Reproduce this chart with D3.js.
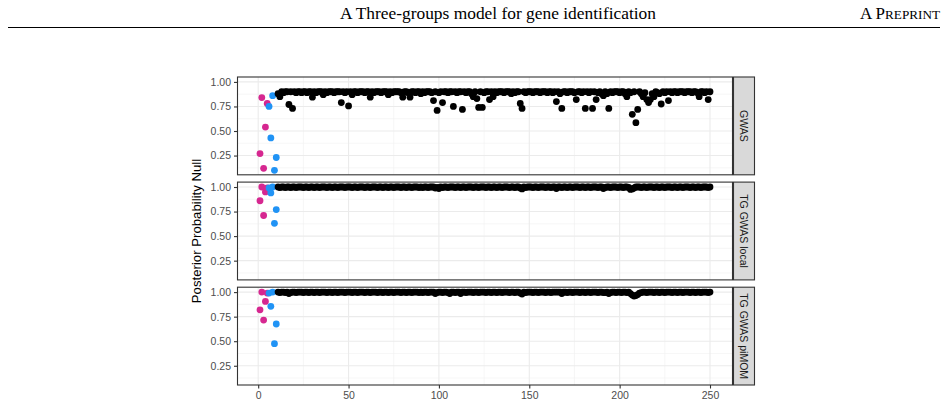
<!DOCTYPE html>
<html>
<head>
<meta charset="utf-8">
<script src="https://cdn.jsdelivr.net/npm/d3@7.8.5/dist/d3.min.js"></script>
<style>
  body { margin: 0; background: #fff; }
  svg { display: block; }
</style>
</head>
<body>
<div id="chart"></div>
<script>
// panel labels (facets, top to bottom)
const panels = ["GWAS", "TG GWAS local", "TG GWAS piMOM"];

// genes 1..5 (magenta group) and 6..10 (blue group), per panel
const magentaIdx = [1, 2, 3, 4, 5];
const blueIdx = [6, 7, 8, 9, 10];
const magentaVals = [
  [0.27, 0.84, 0.12, 0.54, 0.78],
  [0.86, 1.00, 0.71, 0.95, 0.99],
  [0.82, 1.00, 0.715, 0.905, 0.99]
];
const blueVals = [
  [0.75, 0.43, 0.86, 0.10, 0.23],
  [0.99, 0.94, 1.00, 0.63, 0.77],
  [0.99, 0.855, 1.00, 0.475, 0.675]
];

// remaining genes 11..250 (black)
const gwasVals = [
  0.88, 0.85, 0.90, 0.89, 0.90, 0.90, 0.77, 0.90, 0.73, 0.90, 0.89, 0.90, 0.90, 0.89, 0.90, 0.90, 0.89, 0.90, 0.90, 0.845,
  0.90, 0.89, 0.90, 0.90, 0.90, 0.87, 0.90, 0.89, 0.90, 0.90, 0.90, 0.89, 0.90, 0.90, 0.90, 0.79, 0.90, 0.89, 0.90, 0.755,
  0.90, 0.87, 0.90, 0.90, 0.89, 0.90, 0.90, 0.90, 0.89, 0.90, 0.90, 0.845, 0.90, 0.89, 0.90, 0.90, 0.90, 0.89, 0.90, 0.90,
  0.90, 0.87, 0.90, 0.89, 0.90, 0.90, 0.90, 0.90, 0.89, 0.845, 0.90, 0.90, 0.89, 0.845, 0.90, 0.90, 0.89, 0.90, 0.90, 0.88,
  0.90, 0.89, 0.90, 0.90, 0.90, 0.89, 0.81, 0.90, 0.71, 0.89, 0.90, 0.79, 0.90, 0.90, 0.89, 0.90, 0.90, 0.75, 0.90, 0.89,
  0.90, 0.90, 0.72, 0.90, 0.89, 0.90, 0.90, 0.88, 0.85, 0.90, 0.83, 0.74, 0.90, 0.74, 0.89, 0.90, 0.90, 0.82, 0.90, 0.85,
  0.90, 0.89, 0.90, 0.90, 0.90, 0.89, 0.90, 0.90, 0.90, 0.88, 0.90, 0.89, 0.90, 0.90, 0.78, 0.73, 0.90, 0.89, 0.90, 0.90,
  0.90, 0.89, 0.90, 0.90, 0.90, 0.89, 0.90, 0.90, 0.90, 0.89, 0.90, 0.90, 0.89, 0.90, 0.80, 0.90, 0.88, 0.73, 0.90, 0.90,
  0.89, 0.90, 0.90, 0.90, 0.89, 0.82, 0.90, 0.90, 0.89, 0.90, 0.73, 0.90, 0.89, 0.90, 0.73, 0.90, 0.82, 0.89, 0.90, 0.88,
  0.86, 0.90, 0.88, 0.73, 0.90, 0.89, 0.90, 0.90, 0.90, 0.89, 0.90, 0.90, 0.88, 0.85, 0.90, 0.89, 0.67, 0.90, 0.585, 0.72,
  0.90, 0.88, 0.85, 0.89, 0.82, 0.79, 0.82, 0.88, 0.85, 0.90, 0.89, 0.88, 0.775, 0.90, 0.89, 0.90, 0.81, 0.90, 0.89, 0.90,
  0.90, 0.89, 0.90, 0.90, 0.90, 0.89, 0.90, 0.90, 0.90, 0.89, 0.90, 0.90, 0.89, 0.85, 0.90, 0.90, 0.89, 0.90, 0.82, 0.90
];
const localVals = [
  1.00, 0.995, 1.00, 1.00, 0.995, 1.00, 1.00, 0.995, 1.00, 1.00, 0.995, 1.00, 1.00, 1.00, 0.995, 1.00, 1.00, 0.995, 1.00, 1.00,
  0.995, 1.00, 1.00, 0.995, 1.00, 1.00, 1.00, 0.995, 1.00, 1.00, 0.995, 1.00, 1.00, 0.995, 1.00, 1.00, 1.00, 0.995, 1.00, 1.00,
  1.00, 0.995, 1.00, 1.00, 0.995, 1.00, 1.00, 1.00, 0.995, 1.00, 1.00, 0.995, 1.00, 1.00, 1.00, 0.995, 1.00, 1.00, 0.995, 1.00,
  1.00, 0.995, 1.00, 1.00, 0.995, 1.00, 1.00, 1.00, 0.995, 1.00, 1.00, 0.995, 1.00, 1.00, 0.995, 1.00, 1.00, 1.00, 0.995, 1.00,
  0.995, 1.00, 1.00, 0.995, 1.00, 1.00, 1.00, 0.99, 0.995, 0.985, 1.00, 0.995, 1.00, 1.00, 0.995, 1.00, 1.00, 1.00, 0.995, 1.00,
  1.00, 0.995, 1.00, 1.00, 0.995, 1.00, 1.00, 1.00, 0.995, 1.00, 1.00, 0.995, 1.00, 1.00, 1.00, 0.995, 1.00, 1.00, 0.995, 1.00,
  1.00, 0.995, 1.00, 1.00, 0.995, 1.00, 1.00, 1.00, 0.995, 1.00, 1.00, 0.995, 1.00, 1.00, 0.99, 0.98, 1.00, 0.995, 1.00, 1.00,
  1.00, 0.995, 1.00, 1.00, 0.995, 1.00, 1.00, 1.00, 0.995, 1.00, 1.00, 0.995, 1.00, 1.00, 0.985, 1.00, 1.00, 0.995, 1.00, 1.00,
  0.995, 1.00, 1.00, 0.995, 1.00, 1.00, 1.00, 0.995, 1.00, 1.00, 0.995, 1.00, 1.00, 0.995, 1.00, 1.00, 1.00, 0.995, 1.00, 1.00,
  0.985, 0.995, 1.00, 1.00, 0.995, 1.00, 1.00, 1.00, 0.995, 1.00, 1.00, 0.995, 1.00, 1.00, 0.995, 0.975, 0.98, 0.99, 1.00, 1.00,
  1.00, 0.995, 1.00, 1.00, 0.995, 1.00, 1.00, 1.00, 0.995, 1.00, 1.00, 0.995, 1.00, 1.00, 0.995, 1.00, 1.00, 1.00, 0.995, 1.00,
  1.00, 0.995, 1.00, 1.00, 0.995, 1.00, 1.00, 1.00, 0.995, 1.00, 1.00, 0.995, 1.00, 1.00, 0.995, 1.00, 1.00, 1.00, 0.995, 1.00
];
const pimomVals = [
  1.00, 0.995, 1.00, 1.00, 0.995, 1.00, 0.985, 0.995, 1.00, 1.00, 0.995, 1.00, 1.00, 1.00, 0.995, 1.00, 1.00, 0.995, 1.00, 1.00,
  0.995, 1.00, 1.00, 0.995, 1.00, 1.00, 1.00, 0.995, 1.00, 1.00, 0.995, 1.00, 1.00, 0.995, 1.00, 1.00, 1.00, 0.995, 1.00, 1.00,
  1.00, 0.995, 1.00, 1.00, 0.995, 1.00, 1.00, 1.00, 0.995, 1.00, 1.00, 0.995, 1.00, 1.00, 1.00, 0.995, 1.00, 1.00, 0.995, 1.00,
  1.00, 0.995, 1.00, 1.00, 0.995, 1.00, 1.00, 1.00, 0.995, 1.00, 1.00, 0.995, 1.00, 1.00, 0.995, 1.00, 1.00, 1.00, 0.995, 1.00,
  0.995, 1.00, 1.00, 0.995, 1.00, 1.00, 1.00, 0.985, 0.995, 1.00, 1.00, 0.995, 1.00, 1.00, 0.995, 0.985, 1.00, 1.00, 0.995, 1.00,
  1.00, 0.985, 1.00, 1.00, 0.995, 1.00, 1.00, 1.00, 0.995, 1.00, 1.00, 0.995, 1.00, 1.00, 1.00, 0.995, 1.00, 1.00, 0.995, 1.00,
  1.00, 0.995, 1.00, 1.00, 0.995, 1.00, 1.00, 1.00, 0.995, 1.00, 1.00, 0.995, 1.00, 1.00, 0.99, 0.98, 1.00, 0.995, 1.00, 1.00,
  1.00, 0.995, 1.00, 1.00, 0.995, 1.00, 1.00, 1.00, 0.995, 1.00, 1.00, 0.995, 1.00, 1.00, 1.00, 1.00, 1.00, 0.985, 1.00, 1.00,
  0.995, 1.00, 1.00, 0.995, 1.00, 1.00, 1.00, 0.995, 1.00, 1.00, 0.995, 1.00, 1.00, 0.995, 1.00, 1.00, 1.00, 0.995, 1.00, 1.00,
  0.995, 0.995, 1.00, 0.985, 0.995, 1.00, 1.00, 0.995, 1.00, 1.00, 0.995, 1.00, 1.00, 0.995, 1.00, 0.985, 0.97, 0.96, 0.965, 0.975,
  0.99, 0.995, 1.00, 1.00, 0.995, 1.00, 1.00, 1.00, 0.995, 1.00, 1.00, 0.995, 1.00, 1.00, 0.995, 1.00, 1.00, 1.00, 0.995, 1.00,
  1.00, 0.995, 1.00, 1.00, 0.995, 1.00, 1.00, 1.00, 0.995, 1.00, 1.00, 0.995, 1.00, 1.00, 0.995, 1.00, 1.00, 1.00, 0.995, 1.00
];
const blackVals = [gwasVals, localVals, pimomVals];

const xTicks = [0, 50, 100, 150, 200, 250];
const xMinor = [25, 75, 125, 175, 225];
const yTicks = [0.25, 0.5, 0.75, 1.0];
const yMinor = [0.125, 0.375, 0.625, 0.875];

const width = 948, height = 406;
const plot = { left: 237.5, right: 732.5, top: 77, bottom: 385 };
const gap = 7.3;
const panelH = (plot.bottom - plot.top - 2 * gap) / 3;
const stripW = 21;
const colors = { magenta: "#D62790", blue: "#2093F5", black: "#000" };

const svg = d3.select("#chart").append("svg")
  .attr("width", width)
  .attr("height", height);

// page header
const header = svg.append("g").style("font-family", "'Liberation Serif', 'Times New Roman', serif");
header.append("text")
  .attr("x", 498).attr("y", 19)
  .attr("text-anchor", "middle")
  .style("font-size", "17.4px")
  .text("A Three-groups model for gene identification");
const pre = header.append("text")
  .attr("x", 940).attr("y", 19)
  .attr("text-anchor", "end")
  .style("font-size", "17px");
pre.append("tspan").text("A P");
pre.append("tspan").style("font-size", "13.2px").text("REPRINT");
header.append("line")
  .attr("x1", 8).attr("x2", 940)
  .attr("y1", 27.5).attr("y2", 27.5)
  .attr("stroke", "#000").attr("stroke-width", 1);

const x = d3.scaleLinear().domain([-11.45, 262.45]).range([plot.left, plot.right]);

const font = "'Liberation Sans', Arial, sans-serif";

panels.forEach((name, p) => {
  const top = plot.top + p * (panelH + gap);
  const bottom = top + panelH;
  const y = d3.scaleLinear().domain([0.054, 1.05]).range([bottom, top]);
  const g = svg.append("g");

  g.append("rect")
    .attr("x", plot.left).attr("y", top)
    .attr("width", plot.right - plot.left).attr("height", panelH)
    .attr("fill", "#fff");

  // grid
  g.selectAll(".xminor").data(xMinor).enter().append("line")
    .attr("x1", (d) => x(d)).attr("x2", (d) => x(d))
    .attr("y1", top).attr("y2", bottom)
    .attr("stroke", "#F0F0F0").attr("stroke-width", 0.6);
  g.selectAll(".yminor").data(yMinor).enter().append("line")
    .attr("x1", plot.left).attr("x2", plot.right)
    .attr("y1", (d) => y(d)).attr("y2", (d) => y(d))
    .attr("stroke", "#F0F0F0").attr("stroke-width", 0.6);
  g.selectAll(".xmajor").data(xTicks).enter().append("line")
    .attr("x1", (d) => x(d)).attr("x2", (d) => x(d))
    .attr("y1", top).attr("y2", bottom)
    .attr("stroke", "#EBEBEB").attr("stroke-width", 1.1);
  g.selectAll(".ymajor").data(yTicks).enter().append("line")
    .attr("x1", plot.left).attr("x2", plot.right)
    .attr("y1", (d) => y(d)).attr("y2", (d) => y(d))
    .attr("stroke", "#EBEBEB").attr("stroke-width", 1.1);

  // points, in gene order
  const pts = [];
  magentaIdx.forEach((i, k) => pts.push({ i, v: magentaVals[p][k], c: colors.magenta }));
  blueIdx.forEach((i, k) => pts.push({ i, v: blueVals[p][k], c: colors.blue }));
  blackVals[p].forEach((v, k) => pts.push({ i: k + 11, v, c: colors.black }));
  pts.sort((a, b) => a.i - b.i);

  g.selectAll("circle").data(pts).enter().append("circle")
    .attr("cx", (d) => x(d.i))
    .attr("cy", (d) => y(d.v))
    .attr("r", 3.4)
    .attr("fill", (d) => d.c);

  // panel border
  g.append("rect")
    .attr("x", plot.left).attr("y", top)
    .attr("width", plot.right - plot.left).attr("height", panelH)
    .attr("fill", "none").attr("stroke", "#333").attr("stroke-width", 1.1);

  // y axis
  const yAxis = g.append("g")
    .attr("transform", `translate(${plot.left},0)`)
    .call(d3.axisLeft(y).tickValues(yTicks).tickFormat(d3.format(".2f")).tickSize(3.5).tickPadding(3));
  yAxis.select(".domain").remove();
  yAxis.selectAll(".tick line").attr("stroke", "#333").attr("stroke-width", 1.1);
  yAxis.selectAll(".tick text")
    .style("font-family", font).style("font-size", "10.5px").attr("fill", "#4D4D4D");

  // strip
  g.append("rect")
    .attr("x", plot.right + 1).attr("y", top)
    .attr("width", stripW).attr("height", panelH)
    .attr("fill", "#D9D9D9").attr("stroke", "#333").attr("stroke-width", 1.1);
  g.append("text")
    .attr("transform", `translate(${plot.right + 1 + stripW / 2},${top + panelH / 2}) rotate(90)`)
    .attr("text-anchor", "middle")
    .attr("dy", "0.35em")
    .style("font-family", font).style("font-size", "10.5px")
    .attr("fill", "#1A1A1A")
    .text(name);

  if (p === panels.length - 1) {
    const xAxis = g.append("g")
      .attr("transform", `translate(0,${bottom})`)
      .call(d3.axisBottom(x).tickValues(xTicks).tickSize(3.5).tickPadding(3));
    xAxis.select(".domain").remove();
    xAxis.selectAll(".tick line").attr("stroke", "#333").attr("stroke-width", 1.1);
    xAxis.selectAll(".tick text")
      .style("font-family", font).style("font-size", "10.5px").attr("fill", "#4D4D4D");
  }
});

// y axis title
svg.append("text")
  .attr("transform", `translate(201,${(plot.top + plot.bottom) / 2}) rotate(-90)`)
  .attr("text-anchor", "middle")
  .style("font-family", font).style("font-size", "13.2px")
  .attr("fill", "#000")
  .text("Posterior Probability Null");
</script>
</body>
</html>
